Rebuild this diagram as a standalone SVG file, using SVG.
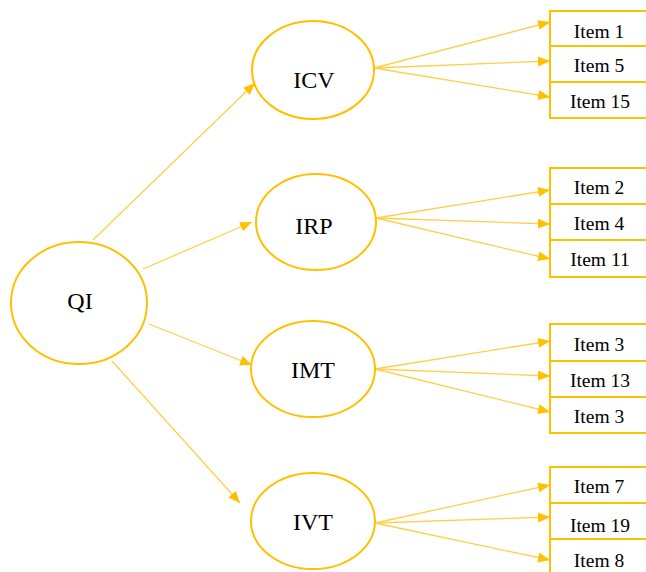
<svg xmlns="http://www.w3.org/2000/svg" width="646" height="572" viewBox="0 0 646 572">
<style>
.ell{fill:#fff;stroke:#FFC000;stroke-width:2}
.box{fill:#fff;stroke:#FFC000;stroke-width:2}
text{font-family:'Liberation Serif','Times New Roman','DejaVu Serif',serif;fill:#000;text-anchor:middle}
.lbl{font-size:24px}
.itm{font-size:19.5px}
.con{stroke:#FFCF4A;stroke-width:1.3;fill:none;marker-end:url(#ah)}
</style>
<defs>
<marker id="ah" markerUnits="userSpaceOnUse" markerWidth="14" markerHeight="12" refX="12" refY="5" orient="auto">
<path d="M0,0 L12,5 L0,10 z" fill="#FFC000"/>
</marker>
</defs>
<rect width="646" height="572" fill="#fff"/>
<g id="connectors">
<line class="con" x1="93" y1="240" x2="255" y2="83"/>
<line class="con" x1="143" y1="269" x2="252" y2="222"/>
<line class="con" x1="149" y1="324" x2="252" y2="365"/>
<line class="con" x1="112" y1="361" x2="240" y2="503"/>
<line class="con" x1="374" y1="68" x2="550" y2="22"/>
<line class="con" x1="374" y1="68" x2="550" y2="61"/>
<line class="con" x1="374" y1="68" x2="550" y2="97"/>
<line class="con" x1="376" y1="218" x2="550" y2="190"/>
<line class="con" x1="376" y1="218" x2="550" y2="224"/>
<line class="con" x1="376" y1="218" x2="550" y2="259"/>
<line class="con" x1="375" y1="369" x2="550" y2="341"/>
<line class="con" x1="375" y1="369" x2="550" y2="376"/>
<line class="con" x1="375" y1="369" x2="550" y2="412"/>
<line class="con" x1="375" y1="523" x2="550" y2="485"/>
<line class="con" x1="375" y1="523" x2="550" y2="517"/>
<line class="con" x1="375" y1="523" x2="550" y2="560"/>
</g>
<g id="QI"><ellipse class="ell" cx="79" cy="303" rx="68" ry="61"/><text class="lbl" x="80" y="309">QI</text></g>
<g id="ICV"><ellipse class="ell" cx="313" cy="70" rx="61" ry="49"/><text class="lbl" x="314" y="88">ICV</text></g>
<g id="IRP"><ellipse class="ell" cx="316" cy="222" rx="60" ry="48"/><text class="lbl" x="314" y="234">IRP</text></g>
<g id="IMT"><ellipse class="ell" cx="313" cy="369" rx="62" ry="48"/><text class="lbl" x="313" y="378">IMT</text></g>
<g id="IVT"><ellipse class="ell" cx="313" cy="521" rx="62" ry="48"/><text class="lbl" x="313" y="530">IVT</text></g>
<g id="item1"><rect class="box" x="550" y="11" width="100" height="35"/><text class="itm" x="599" y="38">Item 1</text></g>
<g id="item5"><rect class="box" x="550" y="46" width="100" height="36"/><text class="itm" x="599" y="72">Item 5</text></g>
<g id="item15"><rect class="box" x="550" y="82" width="100" height="36"/><text class="itm" x="600" y="108">Item 15</text></g>
<g id="item2"><rect class="box" x="550" y="168" width="100" height="36"/><text class="itm" x="599" y="194">Item 2</text></g>
<g id="item4"><rect class="box" x="550" y="204" width="100" height="36"/><text class="itm" x="599" y="230">Item 4</text></g>
<g id="item11"><rect class="box" x="550" y="240" width="100" height="37"/><text class="itm" x="600" y="266">Item 11</text></g>
<g id="item3a"><rect class="box" x="550" y="324" width="100" height="37"/><text class="itm" x="599" y="351">Item 3</text></g>
<g id="item13"><rect class="box" x="550" y="361" width="100" height="36"/><text class="itm" x="600" y="387">Item 13</text></g>
<g id="item3b"><rect class="box" x="550" y="397" width="100" height="36"/><text class="itm" x="599" y="423">Item 3</text></g>
<g id="item7"><rect class="box" x="550" y="467" width="100" height="36"/><text class="itm" x="599" y="493">Item 7</text></g>
<g id="item19"><rect class="box" x="550" y="503" width="100" height="36"/><text class="itm" x="600" y="532">Item 19</text></g>
<g id="item8"><rect class="box" x="550" y="539" width="100" height="40"/><text class="itm" x="599" y="567">Item 8</text></g>
</svg>
